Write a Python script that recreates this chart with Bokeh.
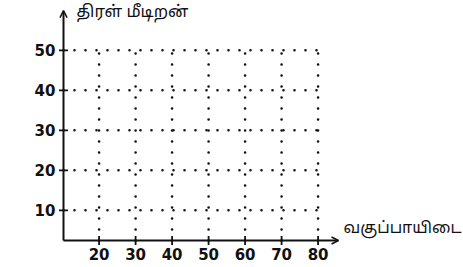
from bokeh.plotting import figure
from bokeh.models import Range1d, Arrow, OpenHead, ColumnDataSource
from bokeh.core.properties import value
from bokeh.embed import file_html
from bokeh.resources import INLINE
import math

# ---- data ----
x_ticks = [20, 30, 40, 50, 60, 70, 80]
x_labels = ["20", "30", "40", "50", "60", "70", "80"]
y_ticks = [10, 20, 30, 40, 50]
y_labels = ["10", "20", "30", "40", "50"]
x_title = "வகுப்பாயிடை"
y_title = "திரள் மீடிறன்"

# axis geometry (data units)
x_origin = 10.25
y_origin = 2.45
x_axis_end = 85.6
y_axis_end = 59.9

W, H = 463, 267
p = figure(width=W, height=H, output_backend="svg", toolbar_location=None,
           x_range=Range1d(-7.01, 119.84), y_range=Range1d(-4.3, 62.45),
           min_border=0, outline_line_color=None)
p.xaxis.visible = False
p.yaxis.visible = False
p.xgrid.visible = False
p.ygrid.visible = False
p.background_fill_color = "white"
p.border_fill_color = "white"

ink = "#111111"

# dotted grid
hs = ColumnDataSource(dict(x0=[x_origin] * len(y_ticks), y0=y_ticks,
                           x1=[max(x_ticks)] * len(y_ticks), y1=y_ticks))
p.segment("x0", "y0", "x1", "y1", source=hs, line_color=ink, line_width=2.6,
          line_dash="0 11", line_cap="round")
vs = ColumnDataSource(dict(x0=x_ticks, y0=[y_origin] * len(x_ticks),
                           x1=x_ticks, y1=[max(y_ticks)] * len(x_ticks)))
p.segment("x0", "y0", "x1", "y1", source=vs, line_color=ink, line_width=2.6,
          line_dash="0 11", line_cap="round")

# axes with arrows
p.add_layout(Arrow(x_start=x_origin, y_start=y_origin, x_end=x_axis_end, y_end=y_origin,
                   line_color=ink, line_width=2,
                   end=OpenHead(size=7, line_width=1.5, line_color=ink)))
p.add_layout(Arrow(x_start=x_origin, y_start=y_origin, x_end=x_origin, y_end=y_axis_end,
                   line_color=ink, line_width=2,
                   end=OpenHead(size=7, line_width=1.5, line_color=ink)))

# ticks
p.scatter(x=[x_origin] * len(y_ticks), y=y_ticks, marker="dash", size=9,
          line_color=ink, line_width=1.8)
p.scatter(x=x_ticks, y=[y_origin] * len(x_ticks), marker="dash", size=9,
          angle=math.pi / 2, line_color=ink, line_width=1.8)

# tick labels
p.text(x=[x_origin] * len(y_ticks), y=y_ticks, text=y_labels, x_offset=-8,
       text_align="right", text_baseline="middle", text_color=ink,
       text_font=value("DejaVu Sans"), text_font_style="bold", text_font_size="15px")
p.text(x=x_ticks, y=[y_origin] * len(x_ticks), text=x_labels, y_offset=7,
       text_align="center", text_baseline="top", text_color=ink,
       text_font=value("DejaVu Sans"), text_font_style="bold", text_font_size="15px")

# axis titles
tamil = value("Noto Sans Tamil, Noto Sans, sans-serif")
p.text(x=[x_axis_end], y=[y_origin], text=[x_title], x_offset=5, y_offset=-12,
       text_align="left", text_baseline="middle", text_color=ink,
       text_font=tamil, text_font_size="16px")
p.text(x=[x_origin], y=[y_axis_end], text=[y_title], x_offset=13, y_offset=2,
       text_align="left", text_baseline="middle", text_color=ink,
       text_font=tamil, text_font_size="16.5px")

open("out.html", "w").write(file_html(p, INLINE))
